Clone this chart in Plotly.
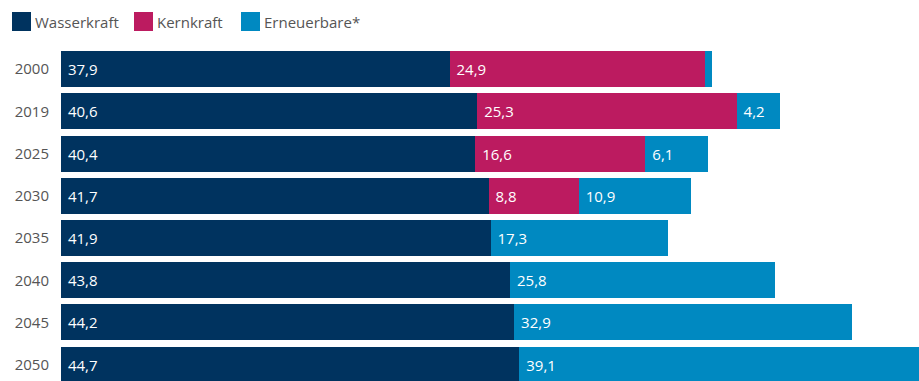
import plotly.graph_objects as go

years = ["2000", "2019", "2025", "2030", "2035", "2040", "2045", "2050"]
wasserkraft = [37.9, 40.6, 40.4, 41.7, 41.9, 43.8, 44.2, 44.7]
kernkraft = [24.9, 25.3, 16.6, 8.8, 0, 0, 0, 0]
erneuerbare = [0.7, 4.2, 6.1, 10.9, 17.3, 25.8, 32.9, 39.1]

series_names = ["Wasserkraft", "Kernkraft", "Erneuerbare*"]
colors = ["#00335F", "#BC1B60", "#0089C1"]

def labels(vals):
    return [(" " + f"{v:.1f}".replace(".", ",")) if v >= 1 else "" for v in vals]

fig = go.Figure()
for name, vals, col in zip(series_names, [wasserkraft, kernkraft, erneuerbare], colors):
    fig.add_trace(go.Bar(
        y=years, x=vals, orientation="h", name=name,
        marker=dict(color=col, line=dict(width=0)),
        text=labels(vals), textposition="inside", insidetextanchor="start",
        textangle=0, constraintext="none",
        textfont=dict(color="white", size=15, family="Open Sans"),
        width=0.853, showlegend=False, hoverinfo="skip",
    ))

# legend built manually
shapes = []
annotations = []
leg_x = [12, 134, 241]
for i, (name, col) in enumerate(zip(series_names, colors)):
    x0 = leg_x[i]
    shapes.append(dict(type="rect", xref="paper", yref="paper",
                       x0=(x0 - 61) / 858, x1=(x0 + 19 - 61) / 858,
                       y0=(381 - 31) / 333, y1=(381 - 12) / 333,
                       fillcolor=col, line=dict(width=0), layer="above"))
    annotations.append(dict(xref="paper", yref="paper",
                            x=(x0 + 21 - 61) / 858, y=(381 - 21.5) / 333,
                            xanchor="left", yanchor="middle", showarrow=False,
                            text=name, font=dict(size=15, color="#555555", family="Open Sans")))

fig.update_layout(
    width=919, height=381,
    margin=dict(l=61, r=0, t=48, b=0),
    barmode="stack",
    plot_bgcolor="white", paper_bgcolor="white",
    font=dict(family="Open Sans", size=15, color="#555555"),
    xaxis=dict(range=[0, 83.68], visible=False, fixedrange=True),
    yaxis=dict(type="category", range=[7.386, -0.5], showgrid=False, zeroline=False,
               showline=False, ticks="", ticklabelstandoff=11,
               tickfont=dict(size=15, color="#555555", family="Open Sans")),
    shapes=shapes, annotations=annotations,
    showlegend=False,
)

fig.write_html("out.html")
